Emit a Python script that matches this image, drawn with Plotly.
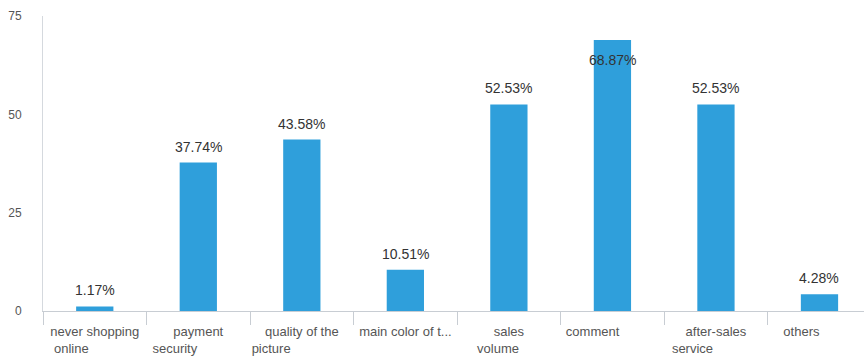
import plotly.graph_objects as go

categories = ["never shopping online", "payment security", "quality of the picture",
              "main color of t...", "sales volume", "comment", "after-sales service", "others"]
tick_lines = [["never shopping", "online"], ["payment", "security"], ["quality of the", "picture"],
              ["main color of t..."], ["sales", "volume"], ["comment"], ["after-sales", "service"],
              ["others"]]
values = [1.17, 37.74, 43.58, 10.51, 52.53, 68.87, 52.53, 4.28]
labels = ["1.17%", "37.74%", "43.58%", "10.51%", "52.53%", "68.87%", "52.53%", "4.28%"]
y_ticks = [0, 25, 50, 75]

# styling: per-line horizontal nudge (px, negative = left) to mimic the left-ish wrapped labels
line_nudges = [[0, -23], [0, -24], [0, -31], [0], [0, -11], [-19], [0, -23], [-18]]
NBSP_W = 3.6


def padded(line, nudge):
    n = int(round(abs(nudge) * 2 / NBSP_W))
    pad = "&nbsp;" * n
    return line + pad if nudge < 0 else pad + line


tick_text = ["<br>".join(padded(l, s) for l, s in zip(ls, ns)) for ls, ns in zip(tick_lines, line_nudges)]

fig = go.Figure(go.Bar(
    x=categories, y=values,
    marker=dict(color="#2F9FDB", line=dict(width=0)),
    cliponaxis=False, hoverinfo="skip",
))

for c, v, t in zip(categories, values, labels):
    inside = v > 65
    fig.add_annotation(
        x=c, y=v, text=t, showarrow=False,
        yanchor="top" if inside else "bottom",
        yshift=-10 if inside else 6,
        font=dict(family="Liberation Sans", size=14, color="#333333"),
    )

fig.update_layout(
    width=864, height=359,
    margin=dict(l=43, r=0, t=16, b=48),
    plot_bgcolor="white", paper_bgcolor="white",
    bargap=0.64, showlegend=False,
    font=dict(family="Liberation Sans", color="#555555"),
)
fig.update_xaxes(
    automargin=False,
    showline=True, linecolor="#C8CDD3", linewidth=1,
    ticks="outside", tickson="boundaries", ticklen=13, tickcolor="#C8CDD3",
    ticklabelstandoff=8,
    tickmode="array", tickvals=categories, ticktext=tick_text,
    tickfont=dict(size=13, color="#555555"), tickangle=0,
    showgrid=False, range=[-0.5, 7.43],
)
fig.update_yaxes(
    automargin=False,
    range=[0, 75], tickvals=y_ticks, showgrid=False, zeroline=False,
    showline=True, linecolor="#D5D9DE", linewidth=1,
    ticks="", ticklabelstandoff=18,
    tickfont=dict(size=12, color="#555555"),
)

fig.write_html("out.html", config={"displayModeBar": False},
               post_script="document.body.style.margin='0';")
